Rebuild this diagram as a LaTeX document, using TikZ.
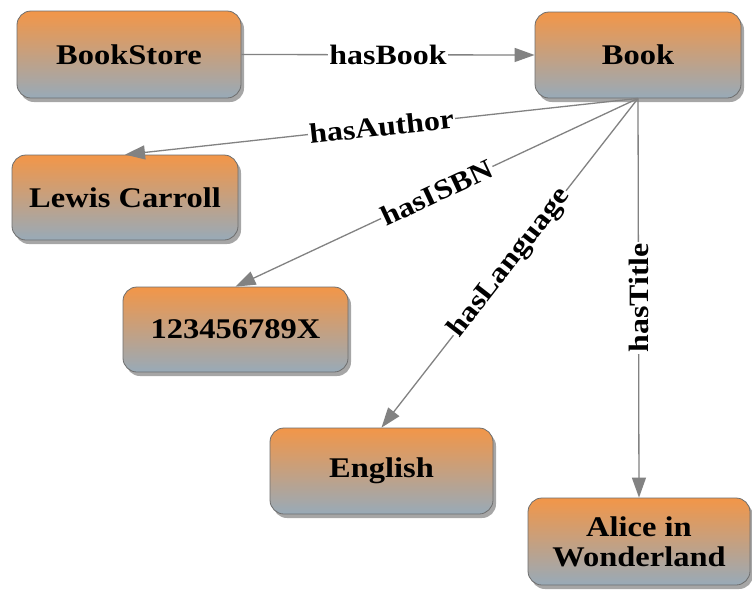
\documentclass[tikz,border=0pt]{standalone}
\usepackage{fontspec}
\setmainfont{Liberation Serif}[FakeStretch=1.14]
\usetikzlibrary{arrows.meta,shadows}

\definecolor{boxtop}{RGB}{242,150,72}
\definecolor{boxbot}{RGB}{152,170,184}
\definecolor{boxline}{RGB}{110,110,110}
\definecolor{edgegray}{RGB}{130,130,130}

\tikzset{
  box/.style={
    draw=boxline, line width=0.8pt, rounded corners=14pt,
    top color=boxtop, bottom color=boxbot,
    drop shadow={shadow xshift=3pt, shadow yshift=-4pt, fill=black, opacity=0.35},
    font=\bfseries\fontsize{28.5}{30}\selectfont, align=center, inner sep=2pt
  },
  edge/.style={
    draw=edgegray, line width=1.3pt,
    -{Triangle[length=20pt, width=14pt, fill=edgegray]}
  },
  lbl/.style={
    fill=white, inner sep=1pt,
    font=\bfseries\fontsize{28}{30}\selectfont
  }
}

\begin{document}
\begin{tikzpicture}[x=1pt, y=-1pt]
  \useasboundingbox[fill=white] (0,0) rectangle (752,590);

  % resources and literals
  \node[box, minimum width=224pt, minimum height=87pt] (store)  at (129,54.5)  {BookStore};
  \node[box, minimum width=206pt, minimum height=86pt] (book)   at (638,55)    {Book};
  \node[box, minimum width=226pt, minimum height=85pt] (author) at (125,197.5) {Lewis Carroll};
  \node[box, minimum width=225pt, minimum height=85pt] (isbn)   at (235.5,329.5) {123456789X};
  \node[box, minimum width=223pt, minimum height=86pt] (lang)   at (381.5,471) {English};
  \node[box, minimum width=222pt, minimum height=87pt] (title)  at (639,541.5) {Alice in\\Wonderland};

  % properties
  \draw[edge] (store.east) -- node[lbl] {hasBook} (book.west);
  \draw[edge] (book.south) -- node[lbl, sloped] {hasAuthor} (author.north);
  \draw[edge] (book.south) -- node[lbl, sloped] {hasISBN} (isbn.north);
  \draw[edge] (book.south) -- node[lbl, sloped] {hasLanguage} (lang.north);
  \draw[edge] (book.south) -- node[lbl, rotate=90] {hasTitle} (title.north);
\end{tikzpicture}
\end{document}
